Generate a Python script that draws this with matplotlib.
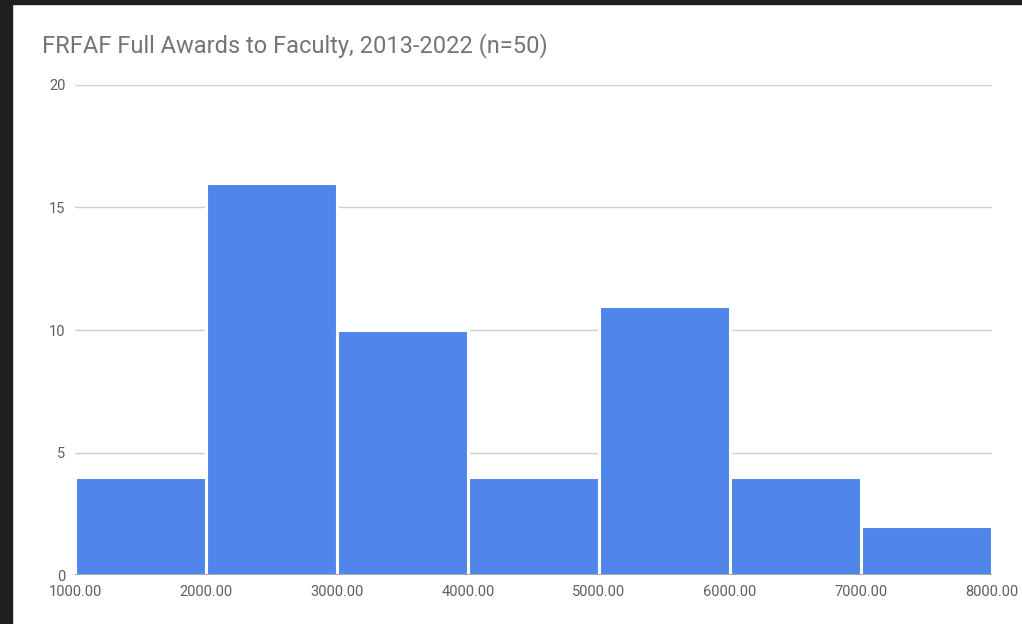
import matplotlib
matplotlib.use("Agg")
import matplotlib.pyplot as plt
from matplotlib.patches import Rectangle
import numpy as np

# histogram bins (award amount) and counts
bin_edges = [1000, 2000, 3000, 4000, 5000, 6000, 7000, 8000]
counts = [4, 16, 10, 4, 11, 4, 2]
y_ticks = [0, 5, 10, 15, 20]

plt.rcParams['font.family'] = ['Roboto', 'DejaVu Sans']

fig = plt.figure(figsize=(10.22, 6.24), dpi=100)
ax = fig.add_axes([0.0734, 0.0785, 0.8972, 0.7853])

left = np.array(bin_edges[:-1])
widths = np.diff(bin_edges)
ax.bar(left, counts, widths, align='edge', color='#5085ea',
       edgecolor='white', linewidth=2.2, zorder=3)

ax.set_xlim(bin_edges[0], bin_edges[-1])
ax.set_ylim(0, 20)
ax.set_yticks(y_ticks)
ax.set_xticks(bin_edges)
ax.set_xticklabels(['%.2f' % v for v in bin_edges])
ax.grid(axis='y', color='#d0d0d0', linewidth=1, zorder=0)
ax.axhline(0, color='#9e9e9e', linewidth=1.3, zorder=4)

for s in ax.spines.values():
    s.set_visible(False)
ax.tick_params(axis='both', length=0, labelsize=10.5, colors='#5f5f5f')
ax.tick_params(axis='y', pad=7)
ax.tick_params(axis='x', pad=7)

fig.text(0.041, 0.927, 'FRFAF Full Awards to Faculty, 2013-2022 (n=50)',
         fontsize=17, color='#757575', va='center', ha='left')

# dark screenshot frame
fig.patches.append(Rectangle((0, 0), 12 / 1022, 1, transform=fig.transFigure,
                             color='#1e1e1e', zorder=10))
fig.patches.append(Rectangle((0, 1 - 4 / 624), 1, 4 / 624, transform=fig.transFigure,
                             color='#1e1e1e', zorder=10))

plt.savefig('out.png', dpi=100)
